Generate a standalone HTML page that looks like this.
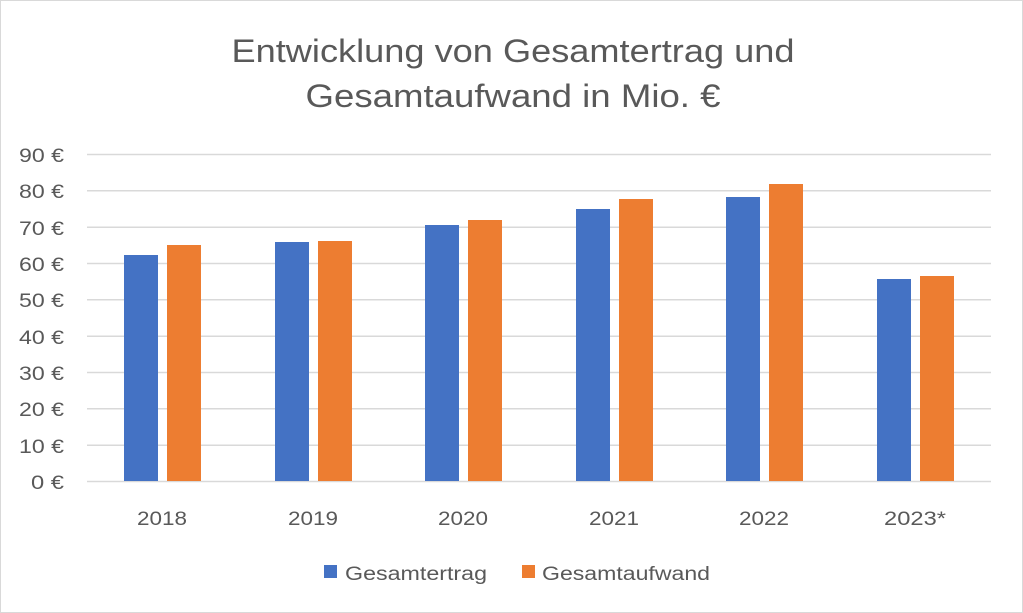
<!DOCTYPE html>
<html><head><meta charset="utf-8"><style>html,body{margin:0;padding:0;background:#fff}svg{display:block}</style></head>
<body>
<svg width="1023" height="613" viewBox="0 0 1023 613" xmlns="http://www.w3.org/2000/svg" font-family="Liberation Sans, sans-serif">
<rect x="0.5" y="0.5" width="1022" height="612" fill="#fff" stroke="#d9d9d9"/>
<text x="513" y="62" font-size="32" fill="#595959" text-anchor="middle" textLength="563" lengthAdjust="spacingAndGlyphs">Entwicklung von Gesamtertrag und</text>
<text x="513" y="107" font-size="32" fill="#595959" text-anchor="middle" textLength="415" lengthAdjust="spacingAndGlyphs">Gesamtaufwand in Mio. €</text>
<g stroke="#d9d9d9" stroke-width="1.5">
<line x1="87" x2="991" y1="154.5" y2="154.5"/><line x1="87" x2="991" y1="190.8" y2="190.8"/><line x1="87" x2="991" y1="227.2" y2="227.2"/><line x1="87" x2="991" y1="263.5" y2="263.5"/><line x1="87" x2="991" y1="299.8" y2="299.8"/><line x1="87" x2="991" y1="336.2" y2="336.2"/><line x1="87" x2="991" y1="372.5" y2="372.5"/><line x1="87" x2="991" y1="408.8" y2="408.8"/><line x1="87" x2="991" y1="445.2" y2="445.2"/><line x1="87" x2="991" y1="481.5" y2="481.5"/>
</g>
<g font-size="19" fill="#595959" text-anchor="end">
<text x="64" y="162" textLength="45" lengthAdjust="spacingAndGlyphs">90 €</text><text x="64" y="198" textLength="45" lengthAdjust="spacingAndGlyphs">80 €</text><text x="64" y="235" textLength="45" lengthAdjust="spacingAndGlyphs">70 €</text><text x="64" y="271" textLength="45" lengthAdjust="spacingAndGlyphs">60 €</text><text x="64" y="307" textLength="45" lengthAdjust="spacingAndGlyphs">50 €</text><text x="64" y="344" textLength="45" lengthAdjust="spacingAndGlyphs">40 €</text><text x="64" y="380" textLength="45" lengthAdjust="spacingAndGlyphs">30 €</text><text x="64" y="416" textLength="45" lengthAdjust="spacingAndGlyphs">20 €</text><text x="64" y="453" textLength="45" lengthAdjust="spacingAndGlyphs">10 €</text><text x="64" y="489" textLength="33" lengthAdjust="spacingAndGlyphs">0 €</text>
</g>
<g fill="#4472c4">
<rect x="124" y="255" width="34" height="226"/><rect x="275" y="242" width="34" height="239"/><rect x="425" y="225" width="34" height="256"/><rect x="576" y="209" width="34" height="272"/><rect x="726" y="197" width="34" height="284"/><rect x="877" y="279" width="34" height="202"/>
</g>
<g fill="#ed7d31">
<rect x="167" y="245" width="34" height="236"/><rect x="318" y="241" width="34" height="240"/><rect x="468" y="220" width="34" height="261"/><rect x="619" y="199" width="34" height="282"/><rect x="769" y="184" width="34" height="297"/><rect x="920" y="276" width="34" height="205"/>
</g>
<g font-size="19" fill="#595959" text-anchor="middle">
<text x="162" y="525" textLength="50" lengthAdjust="spacingAndGlyphs">2018</text><text x="313" y="525" textLength="50" lengthAdjust="spacingAndGlyphs">2019</text><text x="463" y="525" textLength="50" lengthAdjust="spacingAndGlyphs">2020</text><text x="614" y="525" textLength="50" lengthAdjust="spacingAndGlyphs">2021</text><text x="764" y="525" textLength="50" lengthAdjust="spacingAndGlyphs">2022</text><text x="915" y="525" textLength="62" lengthAdjust="spacingAndGlyphs">2023*</text>
</g>
<rect x="324" y="565" width="13" height="13" fill="#4472c4"/>
<text x="345" y="580" font-size="19" fill="#595959" textLength="142" lengthAdjust="spacingAndGlyphs">Gesamtertrag</text>
<rect x="522" y="565" width="13" height="13" fill="#ed7d31"/>
<text x="542" y="580" font-size="19" fill="#595959" textLength="168" lengthAdjust="spacingAndGlyphs">Gesamtaufwand</text>
</svg>
</body></html>
